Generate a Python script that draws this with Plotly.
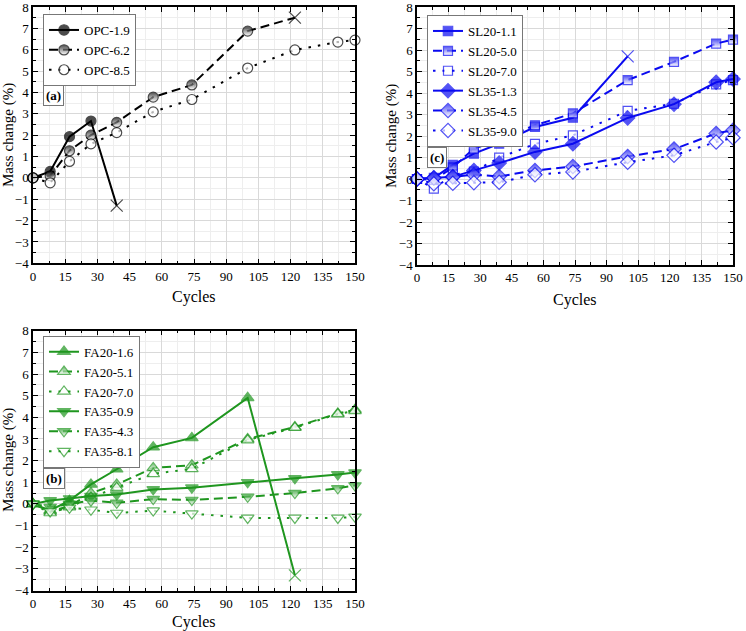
import plotly.graph_objects as go

# ---------------- data ----------------
cycles = [0, 8, 17, 27, 39, 56, 74, 100, 122, 142, 150]

# Panel (a) OPC
opc_names = ["OPC-1.9", "OPC-6.2", "OPC-8.5"]
opc_19 = [0, 0.3, 1.93, 2.66, -1.3]
opc_62 = [0, 0.1, 1.27, 2.0, 2.6, 3.78, 4.35, 6.87, 7.5]
opc_85 = [0, -0.23, 0.77, 1.59, 2.12, 3.09, 3.67, 5.14, 5.99, 6.36, 6.45]
opc_failed = [True, True, False]

# Panel (c) SL
sl_names = ["SL20-1.1", "SL20-5.0", "SL20-7.0", "SL35-1.3", "SL35-4.5", "SL35-9.0"]
sl20_11 = [0, 0.05, 0.66, 1.18, 1.64, 2.42, 2.85, 5.7]
sl20_50 = [0, -0.05, 0.54, 1.41, 1.83, 2.5, 3.05, 4.6, 5.45, 6.3, 6.48]
sl20_70 = [0, -0.45, 0.2, 0.35, 0.99, 1.63, 2.03, 3.17, 3.5, 4.4, 4.6]
sl35_13 = [0, 0.06, 0.1, 0.4, 0.74, 1.26, 1.64, 2.84, 3.48, 4.5, 4.65]
sl35_45 = [0, 0.05, 0.1, 0.2, 0.12, 0.4, 0.58, 1.05, 1.39, 2.12, 2.27]
sl35_90 = [0, -0.22, -0.2, -0.17, -0.15, 0.2, 0.33, 0.78, 1.1, 1.72, 1.92]
sl_failed = [True, False, False, False, False, False]

# Panel (b) FA
fa_names = ["FA20-1.6", "FA20-5.1", "FA20-7.0", "FA35-0.9", "FA35-4.3", "FA35-8.1"]
fa20_16 = [0, -0.3, 0.15, 0.9, 1.6, 2.62, 3.05, 4.9, -3.3]
fa20_51 = [0, -0.35, -0.1, 0.5, 0.9, 1.66, 1.79, 3.0, 3.55, 4.18, 4.35]
fa20_70 = [0, -0.42, -0.15, 0.3, 0.75, 1.39, 1.62, 2.95, 3.52, 4.15, 4.3]
fa35_09 = [0, 0.16, 0.25, 0.36, 0.43, 0.67, 0.75, 1.0, 1.18, 1.36, 1.45]
fa35_43 = [0, -0.15, 0.0, 0.15, 0.05, 0.22, 0.18, 0.33, 0.5, 0.72, 0.85]
fa35_81 = [0, -0.35, -0.18, -0.27, -0.42, -0.31, -0.45, -0.65, -0.65, -0.65, -0.6]
fa_failed = [True, False, False, False, False, False]

x_title = "Cycles"
y_title = "Mass change (%)"

# ---------------- styles ----------------
FONT = "'Liberation Serif', 'Times New Roman', serif"
BLACK = "#000000"
BLUE = "#0a0af0"
GREEN = "#1f961f"
DASH = "9px,5px"
DOT = "2.5px,7px"

W, H = 746, 631
fig = go.Figure()


def add_series(name, values, failed, color, symbol, fill, dash, xa, ya, legend, size=9):
    xs = cycles[:len(values)]
    symbols = [symbol] * len(values)
    sizes = [size] * len(values)
    if failed:
        symbols[-1] = "x-thin"
        sizes[-1] = 12
    marker = dict(symbol=symbols, size=sizes, line=dict(color=color, width=1.2))
    if fill == "full":
        marker["color"] = color
    elif fill == "open":
        marker["color"] = "white"
    else:
        marker["color"] = color
        marker["gradient"] = dict(type="vertical", color="white")
    fig.add_trace(go.Scatter(
        x=xs, y=values, name=name, mode="lines+markers",
        line=dict(color=color, width=2, dash=dash),
        marker=marker, xaxis=xa, yaxis=ya, legend=legend, cliponaxis=False,
    ))


styles6 = [("full", "solid"), ("half", DASH), ("open", DOT)]

# panel (a)
for nm, vals, fl, (fill, dash) in zip(opc_names, [opc_19, opc_62, opc_85], opc_failed, styles6):
    add_series(nm, vals, fl, BLACK, "circle", fill, dash, "x", "y", "legend", size=10)

# panel (c)
sl_vals = [sl20_11, sl20_50, sl20_70, sl35_13, sl35_45, sl35_90]
for i, (nm, vals, fl) in enumerate(zip(sl_names, sl_vals, sl_failed)):
    fill, dash = styles6[i % 3]
    sym = "square" if i < 3 else "diamond"
    add_series(nm, vals, fl, BLUE, sym, fill, dash, "x2", "y2", "legend2", size=9 if i < 3 else 11)

# panel (b)
fa_vals = [fa20_16, fa20_51, fa20_70, fa35_09, fa35_43, fa35_81]
for i, (nm, vals, fl) in enumerate(zip(fa_names, fa_vals, fa_failed)):
    fill, dash = styles6[i % 3]
    sym = "triangle-up" if i < 3 else "triangle-down"
    add_series(nm, vals, fl, GREEN, sym, fill, dash, "x3", "y3", "legend3", size=11)


def px_x(p):
    return p / W


def px_y(p):
    return 1 - p / H


def xaxis(domain, anchor):
    return dict(domain=domain, anchor=anchor, range=[0, 150], tick0=0, dtick=15,
                showgrid=True, gridcolor="#d9d9d9", gridwidth=1, automargin=False,
                minor=dict(dtick=7.5, showgrid=True, gridcolor="#eeeeee", ticks="inside", ticklen=3,
                           tickcolor=BLACK),
                ticks="inside", ticklen=5, tickcolor=BLACK, tickwidth=1,
                showline=True, linecolor=BLACK, linewidth=1.5, mirror="allticks", zeroline=False,
                ticklabeloverflow="allow",
                tickfont=dict(family=FONT, size=13, color=BLACK))


def yaxis(domain, anchor):
    return dict(domain=domain, anchor=anchor, range=[-4, 8], tick0=0, dtick=1,
                showgrid=True, gridcolor="#d9d9d9", gridwidth=1, automargin=False,
                minor=dict(dtick=0.5, showgrid=True, gridcolor="#eeeeee", ticks="inside", ticklen=3,
                           tickcolor=BLACK),
                ticks="inside", ticklen=5, tickcolor=BLACK, tickwidth=1,
                showline=True, linecolor=BLACK, linewidth=1.5, mirror="allticks", zeroline=False,
                ticklabeloverflow="allow",
                tickfont=dict(family=FONT, size=13, color=BLACK))


xa_dom = [px_x(33), px_x(355)]
xc_dom = [px_x(417), px_x(733)]
ya_dom = [px_y(263.3), px_y(7)]
yc_dom = [px_y(265), px_y(7)]
yb_dom = [px_y(590.5), px_y(330.7)]


def legend_at(xp, yp):
    return dict(x=px_x(xp), y=px_y(yp), xanchor="left", yanchor="top", xref="paper", yref="paper",
                bgcolor="white", bordercolor="#777777", borderwidth=1,
                font=dict(family=FONT, size=13, color=BLACK), tracegroupgap=0, itemwidth=30)


def label(text, xp, yp):
    return dict(text="<b>%s</b>" % text, x=px_x(xp), y=px_y(yp), xref="paper", yref="paper",
                xanchor="left", yanchor="top", showarrow=False, bgcolor="white",
                bordercolor="#777777", borderwidth=1, borderpad=2,
                font=dict(family=FONT, size=13, color=BLACK))


def title_ann(text, xp, yp, angle=0, size=16):
    return dict(text=text, x=px_x(xp), y=px_y(yp), xref="paper", yref="paper",
                xanchor="center", yanchor="middle", showarrow=False, textangle=angle,
                font=dict(family=FONT, size=size, color=BLACK))


annotations = [
    label("(a)", 43, 85), label("(c)", 427, 147), label("(b)", 43, 468),
    title_ann(x_title, 194, 297), title_ann(x_title, 575, 300), title_ann(x_title, 194, 622),
    title_ann(y_title, 8, 135, -90, 15), title_ann(y_title, 391, 136, -90, 15),
    title_ann(y_title, 8, 460, -90, 15),
]

fig.update_layout(
    width=W, height=H, margin=dict(l=0, r=0, t=0, b=0, autoexpand=False),
    paper_bgcolor="white", plot_bgcolor="white",
    font=dict(family=FONT, color=BLACK),
    xaxis=xaxis(xa_dom, "y"), yaxis=yaxis(ya_dom, "x"),
    xaxis2=xaxis(xc_dom, "y2"), yaxis2=yaxis(yc_dom, "x2"),
    xaxis3=xaxis(xa_dom, "y3"), yaxis3=yaxis(yb_dom, "x3"),
    legend=legend_at(43, 14),
    legend2=legend_at(427, 15),
    legend3=legend_at(43, 335.7),
    annotations=annotations,
    showlegend=True,
)

fig.write_html("out.html", config={"displayModeBar": False},
               post_script="document.body.style.margin='0px';")
